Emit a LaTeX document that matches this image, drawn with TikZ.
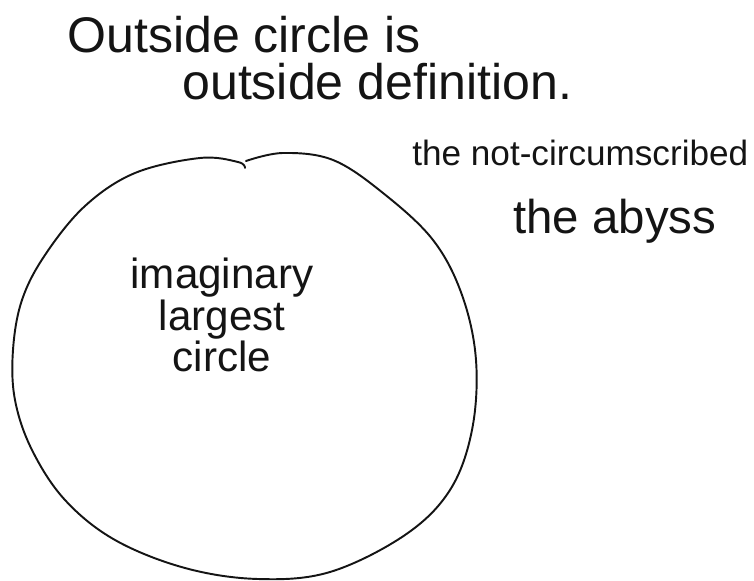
\documentclass[tikz,border=0pt]{standalone}
\usepackage{fontspec}
\setmainfont{Liberation Sans}
\usepackage{tikz}
\usetikzlibrary{positioning}
\definecolor{inkcol}{RGB}{20,20,20}
\tikzset{
  scrawl/.style={text=inkcol,inner sep=0pt,anchor=base west},
  rim/.style={draw=inkcol,line width=1.1pt,line join=round,line cap=round},
}

\begin{document}
\begin{tikzpicture}[x=0.02cm,y=-0.02cm]
  \useasboundingbox (0,0) rectangle (754,581);
  % the drawn circle, joined at the top
  \draw[rim] plot[smooth,tension=0.6] coordinates {
    (246,161) (283,153) (333,160) (383,193) (433,240) (462,295) (476,360)
    (472,430) (450,490) (405,535) (330,572) (258,579) (185,568) (115,540)
    (65,500) (32,450) (15,400) (13,350) (22,300) (45,255) (85,206)
    (135,173) (200,158) (238,162) (245,168)};
  \node[scrawl,text depth=0pt,font=\fontsize{28.5}{30}\selectfont] (outA) at (67,53) {Outside circle is};
  \node[scrawl,font=\fontsize{28.5}{30}\selectfont] (outB) at (182,100) {outside definition.};
  \node[scrawl,font=\fontsize{20}{20}\selectfont] (notcirc) at (412,166) {the not-circumscribed};
  \node[scrawl,font=\fontsize{27}{27}\selectfont] (abyss) at (513,233) {the abyss};
  \node[scrawl,anchor=center,align=center,font=\fontsize{24}{23.5}\selectfont]
    (largest) at (222,315) {imaginary\\largest\\circle};
\end{tikzpicture}
\end{document}
